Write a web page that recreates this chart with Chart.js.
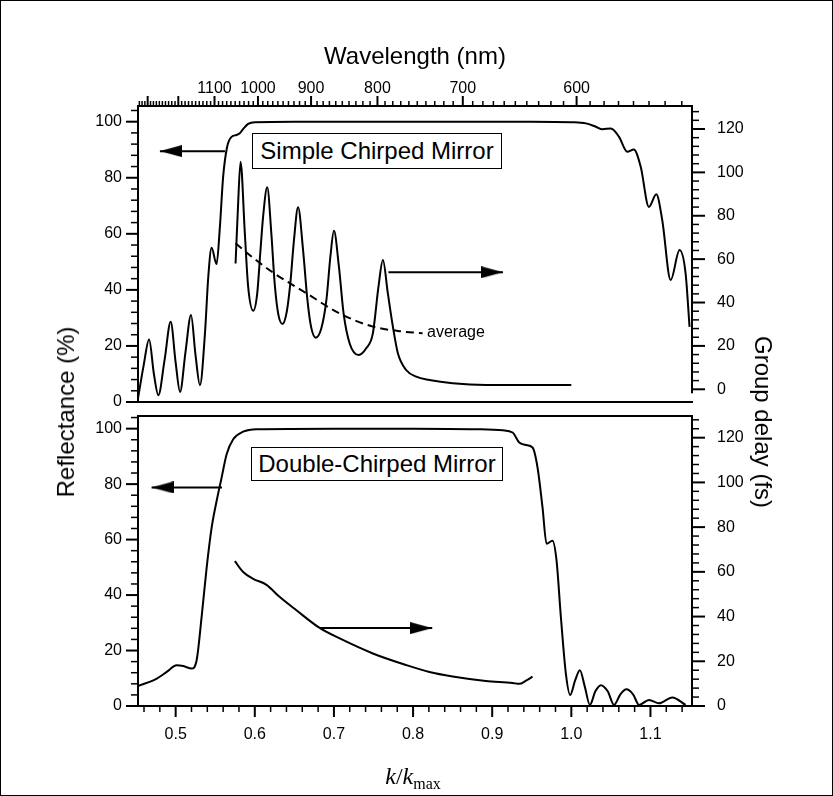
<!DOCTYPE html>
<html>
<head>
<meta charset="utf-8">
<script src="https://cdn.jsdelivr.net/npm/chart.js@4.4.1/dist/chart.umd.min.js"></script>
<style>
html,body{margin:0;padding:0;background:#fff;}
#fig{position:relative;width:833px;height:796px;overflow:hidden;font-family:"Liberation Sans",Arial,Helvetica,sans-serif;color:#000;background:#fff;}
#frame{position:absolute;left:0;top:0;width:833px;height:796px;box-sizing:border-box;border:1px solid #000;pointer-events:none;}
canvas{position:absolute;left:0;}
#c1{top:0;}
#c2{top:408px;}
.box{position:absolute;box-sizing:border-box;border:1.5px solid #000;background:#fff;font-size:24px;line-height:1;display:flex;align-items:center;justify-content:center;white-space:nowrap;z-index:2;}
.txt{position:absolute;white-space:nowrap;z-index:2;}
.rot{position:absolute;white-space:nowrap;font-size:24px;line-height:1;z-index:2;}
</style>
</head>
<body>
<div id="fig">
  <canvas id="c1" width="833" height="410"></canvas>
  <canvas id="c2" width="833" height="388"></canvas>
  <div class="box" style="left:252px;top:133px;width:250px;height:36px;">Simple Chirped Mirror</div>
  <div class="box" style="left:251px;top:447px;width:252px;height:34px;">Double-Chirped Mirror</div>
  <div class="txt" style="left:427px;top:323px;font-size:16px;line-height:18px;">average</div>
  <div class="rot" style="left:66px;top:412px;transform:translate(-50%,-50%) rotate(-90deg);">Reflectance (%)</div>
  <div class="rot" style="left:763px;top:422px;transform:translate(-50%,-50%) rotate(90deg);">Group delay (fs)</div>
  <div class="txt" style="left:413px;top:776px;transform:translate(-50%,-50%);font-family:'Liberation Serif','Times New Roman',serif;font-size:24px;line-height:1;"><i>k</i>/<i>k</i><span style="font-size:16px;position:relative;top:5px;">max</span></div>
  <div id="frame"></div>
</div>
<script>
// ---------------- data ----------------
const X_MIN = 0.4524, X_MAX = 1.1525;
const LAMBDA0 = 604; // k/kmax = LAMBDA0 / wavelength(nm)

const kTickLabels = [0.5, 0.6, 0.7, 0.8, 0.9, 1.0, 1.1];
const wavelengthLabels = [1100, 1000, 900, 800, 700, 600];
const reflTickLabels = [0, 20, 40, 60, 80, 100];
const delayTickLabels = [0, 20, 40, 60, 80, 100, 120];

// Top panel: simple chirped mirror
const kReflTop = [0.4525,0.4595,0.4664,0.4725,0.4781,0.486,0.4937,0.5,0.5055,0.5125,0.5194,0.525,0.5307,0.537,0.5412,0.5454,0.5517,0.5559,0.56,0.565,0.5707,0.5769,0.5811,0.586,0.5916,0.60,0.65,0.75,0.85,0.95,1.0,1.0184,1.031,1.0393,1.05,1.0603,1.0707,1.079,1.0877,1.098,1.1074,1.1149,1.1255,1.1368,1.1444,1.1494];
const reflTop = [1.5,13,22.3,10,2.4,15,28.6,14,3.6,18,31,17,6,24.4,44.6,55,49.2,62.5,80.4,91,94.6,95.25,95.9,97.6,99.2,99.8,100,100,100,100,99.8,99.4,98.2,97.3,97.6,94.6,89.3,90.1,83.9,69.6,74.1,64.9,43.5,54.2,45.9,26.8];

const kDelayTop = [0.5757,0.5785,0.582,0.5874,0.5916,0.598,0.603,0.6072,0.6105,0.6157,0.6209,0.6251,0.6295,0.635,0.6405,0.6449,0.6495,0.6547,0.661,0.6665,0.671,0.677,0.684,0.6905,0.6955,0.70,0.7063,0.7122,0.72,0.7312,0.741,0.7492,0.7563,0.7619,0.7681,0.7745,0.7808,0.7913,0.804,0.8207,0.85,0.892,1.0];
const delayTop = [58,82,104.9,72,47.3,36.2,44,64.2,79.6,93.1,71.9,48.9,35,30.1,36,48.9,68.8,83.9,64.2,41.2,29,23.8,28,41.2,61.1,73.1,56.5,35,21,15.8,19,25.8,47.3,59.6,44.3,28.9,16.6,8.9,5.8,4.3,2.8,2.0,2.0];

const kAverage = [0.5757,0.60,0.6231,0.6651,0.707,0.7492,0.7829,0.812];
const delayAverage = [67.3,60,53.8,44.3,35,28.9,26.8,25.8];

// Bottom panel: double-chirped mirror
const kReflBot = [0.4524,0.4761,0.4887,0.5013,0.5097,0.5202,0.5265,0.5328,0.5392,0.5455,0.5518,0.5581,0.5644,0.5727,0.5853,0.6022,0.70,0.80,0.88,0.9132,0.9258,0.9342,0.9427,0.951,0.9573,0.9636,0.9687,0.9762,0.9813,0.9868,0.9931,0.9985,1.0049,1.0108,1.0171,1.0234,1.0304,1.0373,1.046,1.054,1.062,1.0696,1.078,1.0856,1.0982,1.1108,1.1276,1.1444];
const reflBot = [7.2,9.9,12.3,14.7,14.4,13.5,16.5,32.1,50,64.4,74,82.4,90.8,96.2,98.9,99.8,100,100,99.8,99.4,98.6,95,94.1,93.2,86,71.6,58.5,59.6,52.5,32.1,11.7,4,9.3,12.9,6.9,0.4,5.3,7.5,5.3,0.4,4.2,6,4.2,0.4,2.2,1,3.1,0.4];

const kDelayBot = [0.5748,0.5853,0.5979,0.6148,0.6316,0.6526,0.682,0.7073,0.7492,0.7914,0.8207,0.85,0.892,0.9258,0.9342,0.9427,0.951];
const delayBot = [64.8,59.9,56.9,54.2,48.7,42.8,34.9,30.2,23.5,18.3,15.2,13.2,11.2,10.3,9.9,11.3,13.1];

// Arrows: [tail k, tip k, level]
const arrowTopLeft = [0.5623, 0.4801, 89.5];
const arrowTopRight = [0.7689, 0.9136, 46.3];
const arrowBotLeft = [0.5585, 0.4696, 78.8];
const arrowBotRight = [0.6825, 0.8242, 28.1];

// ---------------- helpers ----------------
Chart.defaults.font.family = "'Liberation Sans', Arial, Helvetica, sans-serif";
Chart.defaults.font.size = 16;
Chart.defaults.color = '#000';

function pts(xs, ys) { return xs.map((x, i) => ({ x: x, y: ys[i] })); }

function makeHead(L, H) {
  const c = document.createElement('canvas');
  c.width = 2 * L; c.height = H;
  const g = c.getContext('2d');
  g.fillStyle = '#000';
  g.beginPath(); g.moveTo(0, 0); g.lineTo(L, H / 2); g.lineTo(0, H); g.closePath(); g.fill();
  return c;
}
const head = makeHead(22, 12);

function curve(data, axis, dash) {
  return { data: data, yAxisID: axis, borderColor: '#000', borderWidth: 2, pointRadius: 0,
    fill: false, cubicInterpolationMode: 'monotone', borderDash: dash || [], borderCapStyle: 'butt', borderJoinStyle: 'round' };
}
function arrow(a, axis) {
  return { data: [{ x: a[0], y: a[2] }, { x: a[1], y: a[2] }], yAxisID: axis, borderColor: '#000', borderWidth: 2,
    pointRadius: [0, 6], pointStyle: head, rotation: a[1] < a[0] ? 180 : 0, tension: 0, fill: false };
}

function tickList(from, to, step, majorStep, majorMax) {
  const out = [];
  const n = Math.round((to - from) / step);
  for (let i = 0; i <= n; i++) {
    const v = from + i * step;
    const r = Math.round(v / majorStep);
    const major = Math.abs(v - r * majorStep) < 1e-6 && v <= majorMax + 1e-9;
    out.push({ v: v, major: major });
  }
  return out;
}
function wavelengthTickList() {
  const out = [];
  for (let l = 530; l <= 1330; l += 10) out.push({ v: LAMBDA0 / l, major: l % 100 === 0 });
  return out;
}

function tickPlugin(spec) {
  return {
    id: 'tickMarks',
    afterDraw(chart) {
      const ctx = chart.ctx, ca = chart.chartArea;
      ctx.save();
      ctx.strokeStyle = '#000';
      ctx.lineCap = 'butt';
      spec.forEach(a => {
        const sc = chart.scales[a.scale];
        if (a.line) {
          ctx.lineWidth = 2;
          ctx.beginPath();
          const p0 = sc.getPixelForValue(a.line[0]), p1 = sc.getPixelForValue(a.line[1]);
          if (a.side === 'right') { ctx.moveTo(ca.right, p0); ctx.lineTo(ca.right, p1); }
          ctx.stroke();
        }
        a.ticks.forEach(t => {
          const p = sc.getPixelForValue(t.v);
          const len = t.major ? a.majorLen : a.minorLen;
          ctx.lineWidth = t.major ? 2 : 1.5;
          ctx.beginPath();
          if (a.side === 'left') { ctx.moveTo(ca.left, p); ctx.lineTo(ca.left - len, p); }
          else if (a.side === 'right') { ctx.moveTo(ca.right, p); ctx.lineTo(ca.right + len, p); }
          else if (a.side === 'top') { ctx.moveTo(p, ca.top); ctx.lineTo(p, ca.top - len); }
          else { ctx.moveTo(p, ca.bottom); ctx.lineTo(p, ca.bottom + len); }
          ctx.stroke();
        });
      });
      ctx.restore();
    }
  };
}

const noGrid = { display: false, drawTicks: false };
const border2 = { display: true, width: 2, color: '#000' };
function fixH(h) { return s => { s.height = h; s.paddingLeft = 0; s.paddingRight = 0; s.paddingTop = 0; s.paddingBottom = 0; }; }
function fixW(w) { return s => { s.width = w; s.paddingLeft = 0; s.paddingRight = 0; s.paddingTop = 0; s.paddingBottom = 0; }; }

// ---------------- top chart ----------------
new Chart(document.getElementById('c1'), {
  type: 'line',
  data: {
    datasets: [
      curve(pts(kReflTop, reflTop), 'y'),
      curve(pts(kDelayTop, delayTop), 'y2'),
      curve(pts(kAverage, delayAverage), 'y2', [8, 5]),
      arrow(arrowTopLeft, 'y'),
      arrow(arrowTopRight, 'y')
    ]
  },
  options: {
    responsive: false, animation: false, events: [],
    layout: { padding: 0 },
    plugins: { legend: { display: false }, tooltip: { enabled: false } },
    scales: {
      x: { type: 'linear', position: 'bottom', min: X_MIN, max: X_MAX,
        afterFit: fixH(8), ticks: { display: false }, grid: noGrid, border: border2 },
      x2: { type: 'linear', position: 'top', min: X_MIN, max: X_MAX,
        afterFit: fixH(106),
        afterBuildTicks: s => { s.ticks = wavelengthLabels.map(l => ({ value: LAMBDA0 / l })); },
        ticks: { callback: v => String(Math.round(LAMBDA0 / v)), autoSkip: false, maxRotation: 0, minRotation: 0, padding: 8 },
        grid: noGrid, border: border2,
        title: { display: true, text: 'Wavelength (nm)', font: { size: 24 }, padding: { top: 43, bottom: 0 } } },
      y: { type: 'linear', position: 'left', min: 0, max: 105.6,
        afterFit: fixW(138),
        afterBuildTicks: s => { s.ticks = reflTickLabels.map(v => ({ value: v })); },
        ticks: { padding: 16 }, grid: noGrid, border: border2 },
      y2: { type: 'linear', position: 'right', min: -5.86, max: 130.6,
        afterFit: fixW(141),
        afterBuildTicks: s => { s.ticks = delayTickLabels.map(v => ({ value: v })); },
        ticks: { padding: 25 }, grid: noGrid, border: { display: false } }
    }
  },
  plugins: [tickPlugin([
    { scale: 'y', side: 'left', ticks: tickList(0, 104, 4, 20, 100), majorLen: 12, minorLen: 7 },
    { scale: 'y2', side: 'right', ticks: tickList(0, 128, 4, 20, 120), majorLen: 13, minorLen: 7, line: [-1.8, 130.6] },
    { scale: 'x2', side: 'top', ticks: wavelengthTickList(), majorLen: 10, minorLen: 5 }
  ])]
});

// ---------------- bottom chart ----------------
new Chart(document.getElementById('c2'), {
  type: 'line',
  data: {
    datasets: [
      curve(pts(kReflBot, reflBot), 'y'),
      curve(pts(kDelayBot, delayBot), 'y2'),
      arrow(arrowBotLeft, 'y'),
      arrow(arrowBotRight, 'y')
    ]
  },
  options: {
    responsive: false, animation: false, events: [],
    layout: { padding: 0 },
    plugins: { legend: { display: false }, tooltip: { enabled: false } },
    scales: {
      x: { type: 'linear', position: 'bottom', min: X_MIN, max: X_MAX,
        afterFit: fixH(90),
        afterBuildTicks: s => { s.ticks = kTickLabels.map(v => ({ value: v })); },
        ticks: { callback: v => v.toFixed(1), autoSkip: false, maxRotation: 0, minRotation: 0, padding: 19 },
        grid: noGrid, border: border2 },
      x2: { type: 'linear', position: 'top', min: X_MIN, max: X_MAX,
        afterFit: fixH(7), ticks: { display: false }, grid: noGrid, border: border2 },
      y: { type: 'linear', position: 'left', min: 0, max: 104.56,
        afterFit: fixW(138),
        afterBuildTicks: s => { s.ticks = reflTickLabels.map(v => ({ value: v })); },
        ticks: { padding: 16 }, grid: noGrid, border: border2 },
      y2: { type: 'linear', position: 'right', min: 0, max: 129.7,
        afterFit: fixW(141),
        afterBuildTicks: s => { s.ticks = delayTickLabels.map(v => ({ value: v })); },
        ticks: { padding: 25 }, grid: noGrid, border: border2 }
    }
  },
  plugins: [tickPlugin([
    { scale: 'y', side: 'left', ticks: tickList(0, 104, 4, 20, 100), majorLen: 12, minorLen: 7 },
    { scale: 'y2', side: 'right', ticks: tickList(0, 128, 4, 20, 120), majorLen: 13, minorLen: 7 },
    { scale: 'x', side: 'bottom', ticks: tickList(0.46, 1.14, 0.02, 0.1, 1.1), majorLen: 11, minorLen: 6 }
  ])]
});
</script>
</body>
</html>
